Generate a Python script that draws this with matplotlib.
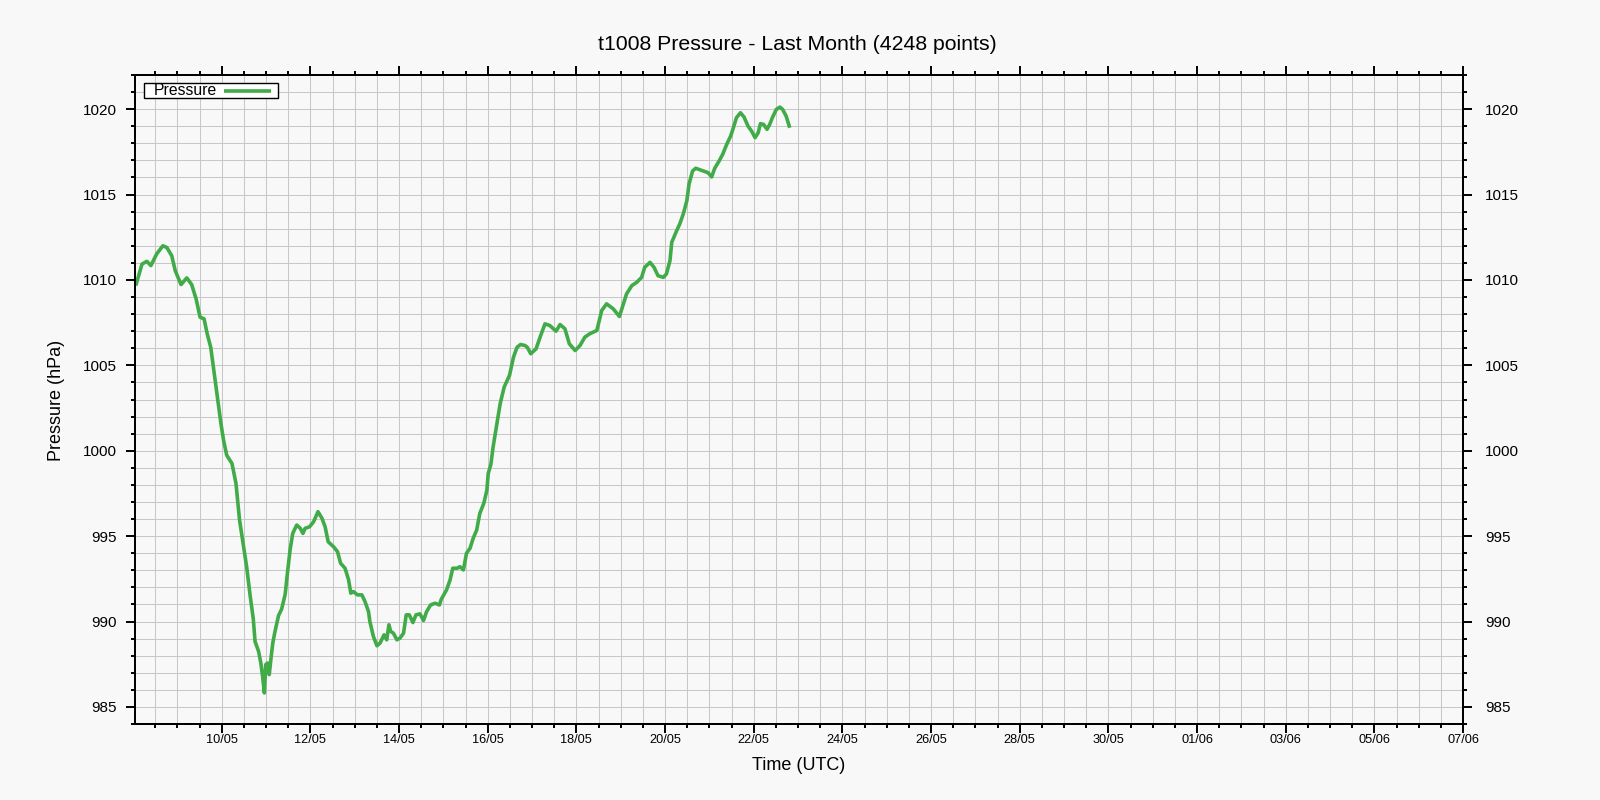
import matplotlib
matplotlib.use("Agg")
import matplotlib.pyplot as plt
import matplotlib.dates as mdates
from matplotlib.patches import Rectangle
import numpy as np
import pandas as pd

plt.rcParams["font.family"] = ["Liberation Sans", "DejaVu Sans"]

# time of each reading, in days after 10/05 00:00 UTC
base_date = pd.Timestamp("2024-05-10")
day_offsets = [
    -1.93, -1.80, -1.69, -1.60, -1.47, -1.33, -1.24, -1.13, -1.05, -0.92,
    -0.79, -0.68, -0.58, -0.49, -0.40, -0.33, -0.25, -0.17, -0.09, -0.02,
    0.04, 0.11, 0.23, 0.32, 0.40, 0.49, 0.56, 0.64, 0.71, 0.75,
    0.83, 0.88, 0.92, 0.96, 0.99, 1.03, 1.07, 1.11, 1.15, 1.20,
    1.28, 1.35, 1.43, 1.48, 1.54, 1.60, 1.69, 1.77, 1.83, 1.88,
    1.98, 2.07, 2.17, 2.26, 2.33, 2.40, 2.52, 2.61, 2.68, 2.78,
    2.86, 2.91, 2.97, 3.06, 3.16, 3.23, 3.31, 3.34, 3.42, 3.50,
    3.57, 3.66, 3.72, 3.77, 3.81, 3.87, 3.95, 4.02, 4.10, 4.16,
    4.23, 4.31, 4.38, 4.47, 4.55, 4.62, 4.71, 4.81, 4.91, 4.95,
    5.07, 5.15, 5.21, 5.31, 5.37, 5.45, 5.52, 5.60, 5.67, 5.75,
    5.82, 5.91, 5.98, 6.01, 6.07, 6.12, 6.20, 6.28, 6.37, 6.49,
    6.58, 6.66, 6.74, 6.84, 6.89, 6.97, 7.09, 7.18, 7.29, 7.40,
    7.54, 7.63, 7.74, 7.84, 7.97, 8.08, 8.19, 8.30, 8.46, 8.57,
    8.68, 8.83, 8.97, 9.06, 9.13, 9.25, 9.36, 9.47, 9.54, 9.66,
    9.75, 9.84, 9.96, 10.03, 10.11, 10.15, 10.26, 10.33, 10.41, 10.49,
    10.54, 10.62, 10.69, 10.86, 10.97, 11.05, 11.12, 11.22, 11.30, 11.39,
    11.48, 11.54, 11.61, 11.70, 11.78, 11.87, 11.95, 12.03, 12.10, 12.15,
    12.22, 12.30, 12.36, 12.42, 12.51, 12.59, 12.65, 12.73, 12.80,
]
pressure = [
    1009.77, 1010.93, 1011.09, 1010.84, 1011.52, 1012.00, 1011.90, 1011.42, 1010.54, 1009.73,
    1010.12, 1009.73, 1008.89, 1007.82, 1007.72, 1006.85, 1006.06, 1004.51, 1002.95, 1001.59,
    1000.61, 999.74, 999.25, 998.08, 995.94, 994.38, 993.21, 991.50, 990.15, 988.83,
    988.25, 987.57, 986.79, 985.82, 987.47, 987.57, 986.89, 987.86, 988.74, 989.42,
    990.35, 990.73, 991.60, 992.83, 994.19, 995.16, 995.65, 995.46, 995.16, 995.46,
    995.55, 995.84, 996.43, 996.04, 995.55, 994.67, 994.38, 994.09, 993.41, 993.12,
    992.44, 991.66, 991.75, 991.56, 991.56, 991.17, 990.58, 990.00, 989.12, 988.58,
    988.74, 989.22, 988.93, 989.81, 989.42, 989.32, 988.93, 989.03, 989.32, 990.39,
    990.39, 989.94, 990.39, 990.45, 990.06, 990.58, 990.97, 991.07, 990.97, 991.30,
    991.85, 992.44, 993.12, 993.12, 993.21, 993.02, 994.00, 994.29, 994.87, 995.36,
    996.33, 996.92, 997.69, 998.67, 999.20, 1000.22, 1001.50, 1002.76, 1003.73, 1004.41,
    1005.48, 1006.06, 1006.22, 1006.16, 1006.06, 1005.68, 1005.97, 1006.65, 1007.43, 1007.33,
    1007.00, 1007.39, 1007.14, 1006.26, 1005.87, 1006.16, 1006.65, 1006.85, 1007.04, 1008.21,
    1008.60, 1008.31, 1007.86, 1008.60, 1009.18, 1009.67, 1009.86, 1010.15, 1010.74, 1011.03,
    1010.74, 1010.25, 1010.15, 1010.35, 1011.13, 1012.20, 1012.88, 1013.27, 1013.86, 1014.63,
    1015.61, 1016.38, 1016.54, 1016.38, 1016.28, 1016.03, 1016.54, 1016.97, 1017.36, 1017.94,
    1018.43, 1018.91, 1019.50, 1019.79, 1019.54, 1019.01, 1018.72, 1018.33, 1018.62, 1019.15,
    1019.11, 1018.82, 1019.11, 1019.50, 1019.99, 1020.12, 1019.99, 1019.60, 1019.01,
]
times = base_date + pd.to_timedelta(day_offsets, unit="D")

title = "t1008 Pressure - Last Month (4248 points)"
series_name = "Pressure"
x_start = pd.Timestamp("2024-05-08 01:00")
x_end = pd.Timestamp("2024-06-07 00:00")
x_major = pd.date_range("2024-05-10", "2024-06-07", freq="2D")
x_minor = pd.date_range("2024-05-08 12:00", "2024-06-07", freq="12h")
y_major = np.arange(985, 1021, 5)
y_minor = np.arange(984, 1023, 1)

bg = "#f8f8f8"
green = "#40ab48"
lw = 2.6

fig = plt.figure(figsize=(16, 8), dpi=100, facecolor=bg)
ax = fig.add_axes([135 / 1600, 1 - 724 / 800, 1328 / 1600, 649 / 800])
ax.set_facecolor(bg)

ax.plot(times, pressure, color=green, lw=lw, zorder=3)

ax.set_xlim(x_start, x_end)
ax.set_ylim(984, 1022)
ax.set_xticks(x_major)
ax.set_xticks(x_minor, minor=True)
ax.xaxis.set_major_formatter(mdates.DateFormatter("%d/%m"))
ax.set_yticks(y_major)
ax.set_yticks(y_minor, minor=True)

ax.set_axisbelow(True)
ax.grid(which="both", color="#c8c8c8", lw=0.75)

for s in ax.spines.values():
    s.set_linewidth(1.4)
ax.tick_params(which="major", direction="out", length=6.5, width=1.4, top=True, right=False)
ax.tick_params(which="minor", direction="out", length=3.2, width=1.4, top=True, right=False)
ax.tick_params(axis="x", labelsize=9.2, pad=0.5)
ax.tick_params(axis="y", labelsize=11, pad=6.3)

# right-hand axis repeats the pressure scale
ax2 = ax.twinx()
ax2.set_ylim(984, 1022)
ax2.set_yticks(y_major)
ax2.set_yticks(y_minor, minor=True)
ax2.tick_params(which="major", direction="out", length=6.5, width=1.4, labelsize=11, pad=9.4)
ax2.tick_params(which="minor", direction="out", length=3.2, width=1.4)
for s in ax2.spines.values():
    s.set_linewidth(1.4)

# gnuplot-style key: tight box, name first, sample line after it
key_box = Rectangle((0.0070, 0.9641), 0.1009, 0.0231, transform=ax.transAxes,
                    facecolor="white", edgecolor="black", lw=1.0, zorder=5)
ax.add_patch(key_box)
ax.text(0.0138, 0.9757, series_name, transform=ax.transAxes, ha="left", va="center",
        fontsize=11.3, zorder=6)
ax.plot([0.0670, 0.1024], [0.9757, 0.9757], transform=ax.transAxes, color=green,
        lw=lw, solid_capstyle="butt", zorder=6)

fig.text(797 / 1600, 1 - 44.5 / 800, title, ha="center", va="center", fontsize=15.3)
fig.text(56.7 / 1600, 0.5, "Pressure (hPa)", rotation=90, ha="center", va="center", fontsize=13)
fig.text(798.7 / 1600, 1 - 766 / 800, "Time (UTC)", ha="center", va="center", fontsize=13)

fig.savefig("out.png", dpi=100, facecolor=bg)
